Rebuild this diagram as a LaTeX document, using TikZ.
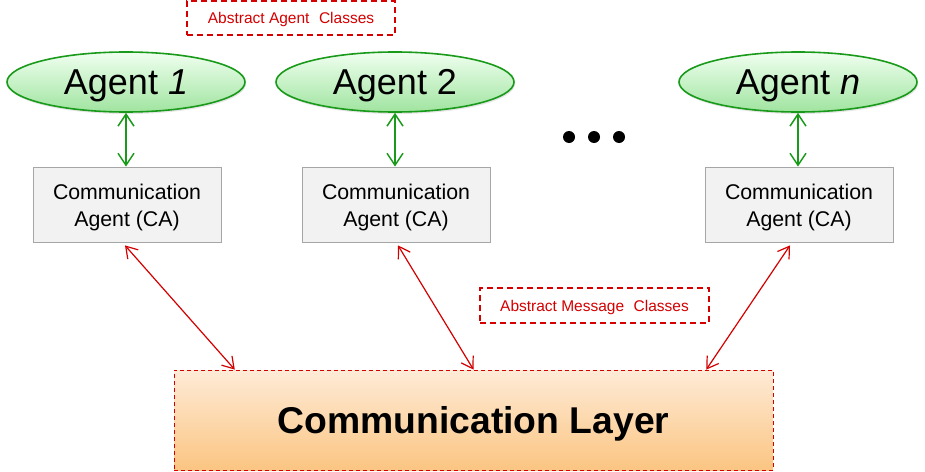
\documentclass[tikz,border=0pt]{standalone}
\usepackage{fontspec}
\setmainfont{Liberation Sans}
\usetikzlibrary{shapes.geometric,arrows.meta,calc,shadows}
\definecolor{agreen}{HTML}{1A9A1A}
\definecolor{ared}{HTML}{D40000}
\definecolor{cagray}{HTML}{A6A6A6}
\definecolor{cafill}{HTML}{F2F2F2}
\tikzset{
  agentnode/.style={ellipse, draw=agreen, line width=1.6pt, minimum width=238pt, minimum height=60pt, inner sep=0pt,
     text depth=0pt,
     top color=green!6!white, bottom color={rgb,255:red,160;green,228;blue,160}, font=\fontsize{36}{40}\selectfont,
     drop shadow={opacity=0.2, shadow xshift=1pt, shadow yshift=-2pt}},
  cabox/.style={draw=cagray, fill=cafill, line width=0.8pt, minimum width=188pt, minimum height=75pt, inner sep=0pt},
  catext/.style={align=center, inner sep=0pt, font=\fontsize{21.3}{27}\selectfont},
  abstractbox/.style={draw=ared, dashed, dash pattern=on 6pt off 4pt, line width=1.6pt, inner sep=0pt, text=ared,
     text depth=0pt, font=\fontsize{15.5}{18}\selectfont},
  layerbox/.style={draw=ared, dash pattern=on 4pt off 3pt, line width=0.8pt, minimum width=599pt, minimum height=100pt,
     text depth=0pt,
     top color={rgb,255:red,254;green,235;blue,215}, bottom color={rgb,255:red,251;green,197;blue,130},
     font=\bfseries\fontsize{37.3}{40}\selectfont},
  greenarrow/.style={agreen, line width=1.5pt, {Straight Barb[length=12pt,width=16pt]}-{Straight Barb[length=12pt,width=16pt]}},
  redarrow/.style={ared, line width=1.2pt, {Straight Barb[length=11pt,width=14pt]}-{Straight Barb[length=11pt,width=14pt]}},
  dotnode/.style={circle, fill=black, inner sep=0pt, minimum size=12pt}
}
\begin{document}
\begin{tikzpicture}[x=1pt,y=-1pt]
\useasboundingbox (0,0) rectangle (925,471);
% abstract agent classes
\node[abstractbox, minimum width=208pt, minimum height=34pt] (aac) at (291,18) {Abstract Agent\,\, Classes};
% agents
\node[agentnode] (ag1) at (126,82) {Agent \textit{1}};
\node[agentnode] (ag2) at (395,82) {Agent 2};
\node[agentnode] (agn) at (798,82) {Agent \textit{n}};
% dots
\node[dotnode] (d1) at (569,137) {};
\node[dotnode] (d2) at (594,137) {};
\node[dotnode] (d3) at (619,137) {};
% CA boxes
\node[cabox] (ca1) at (127,204.5) {};
\node[cabox] (ca2) at (396,204.5) {};
\node[cabox] (can) at (799,204.5) {};
\node[catext] (ca1t) at (127,207) {Communication\\Agent (CA)};
\node[catext] (ca2t) at (396,207) {Communication\\Agent (CA)};
\node[catext] (cant) at (799,207) {Communication\\Agent (CA)};
% green arrows
\draw[greenarrow] (ag1.south) -- (ag1.south |- ca1.north);
\draw[greenarrow] (ag2.south) -- (ag2.south |- ca2.north);
\draw[greenarrow] (agn.south) -- (agn.south |- can.north);
% abstract message classes
\node[abstractbox, minimum width=229pt, minimum height=35pt] (amc) at (594.5,305.5) {Abstract Message\,\, Classes};
% communication layer
\node[layerbox] (layer) at (473.5,420) {Communication Layer};
% red arrows
\draw[redarrow] ($(ca1.south)+(-2,3)$) -- ($(layer.north west)!0.102!(layer.north east)$);
\draw[redarrow] ($(ca2.south)+(2,3)$) -- ($(layer.north west)!0.5!(layer.north east)$);
\draw[redarrow] ($(can.south)+(-9,3)$) -- ($(layer.north west)!0.888!(layer.north east)$);
\end{tikzpicture}
\end{document}
